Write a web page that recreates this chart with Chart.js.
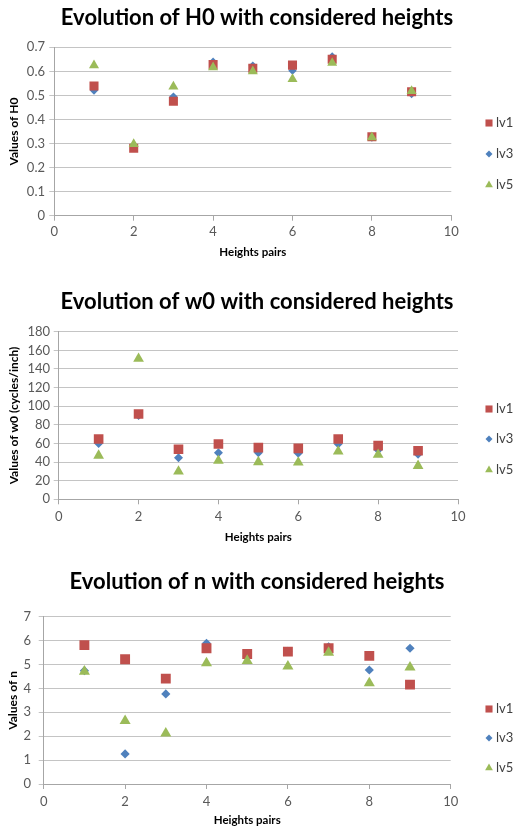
<!DOCTYPE html>
<html>
<head>
<meta charset="utf-8">
<title>Evolution of H0, w0 and n</title>
<script src="https://cdn.jsdelivr.net/npm/chart.js@4.4.0/dist/chart.umd.min.js"></script>
<style>
  body { margin: 0; background: #fff; }
  .band { position: absolute; left: 0; width: 514px; }
</style>
</head>
<body>
<div class="band" style="top:0;height:265px"><canvas id="chartH0"></canvas></div>
<div class="band" style="top:280px;height:268px"><canvas id="chartW0"></canvas></div>
<div class="band" style="top:562px;height:269px"><canvas id="chartN"></canvas></div>
<script>
// heights pairs on the x axis
const heightsPairs = [1, 2, 3, 4, 5, 6, 7, 8, 9];
const seriesNames = ["lv1", "lv3", "lv5"];

// H0
const h0Lv1 = [0.539, 0.28, 0.476, 0.628, 0.613, 0.626, 0.65, 0.328, 0.515];
const h0Lv3 = [0.52, 0.29, 0.495, 0.64, 0.624, 0.603, 0.662, 0.325, 0.506];
const h0Lv5 = [0.625, 0.298, 0.537, 0.617, 0.6, 0.568, 0.635, 0.326, 0.518];

// w0 (cycles/inch)
const w0Lv1 = [64.8, 91.6, 53.7, 59.4, 55.5, 54.7, 64.8, 57.6, 52.2];
const w0Lv3 = [60, 90, 44.5, 50, 50, 49.4, 59.5, 53, 48.5];
const w0Lv5 = [47, 151, 30, 41.5, 40, 39.5, 51.5, 48, 36];

// n
const nLv1 = [5.81, 5.22, 4.41, 5.68, 5.44, 5.54, 5.68, 5.36, 4.16];
const nLv3 = [4.74, 1.26, 3.77, 5.89, 5.35, 5.55, 5.74, 4.77, 5.68];
const nLv5 = [4.71, 2.64, 2.12, 5.06, 5.16, 4.92, 5.5, 4.22, 4.88];

// axis ranges [min, max, step]
const xRange = [0, 10, 2];
const h0Range = [0, 0.7, 0.1];
const w0Range = [0, 180, 20];
const nRange = [0, 7, 1];

const RED = "#C0504D";
const BLUE = "#4F81BD";
const GREEN = "#9BBB59";
const FONT = "Lato";

// legend drawn on the right side, one row per dataset
const sideLegend = {
  id: "sideLegend",
  afterDraw(chart, args, opts) {
    const ctx = chart.ctx;
    ctx.save();
    ctx.font = "13px " + FONT;
    ctx.textBaseline = "middle";
    ctx.textAlign = "left";
    chart.data.datasets.forEach((ds, i) => {
      const y = opts.y[i];
      ctx.fillStyle = ds.backgroundColor;
      Chart.helpers.drawPoint(ctx, {
        pointStyle: ds.pointStyle, radius: opts.radius[i], rotation: 0, borderWidth: 0
      }, opts.x, y);
      ctx.fillStyle = "#404040";
      ctx.fillText(ds.label, opts.x + 7, y);
    });
    ctx.restore();
  }
};

function series(label, values, color, style, radius, order) {
  return {
    label: label,
    data: heightsPairs.map((x, i) => ({ x: x, y: values[i] })),
    backgroundColor: color,
    borderColor: color,
    pointStyle: style,
    pointRadius: radius,
    pointBorderWidth: 0,
    order: order
  };
}

function makeChart(id, o) {
  return new Chart(document.getElementById(id), {
    type: "scatter",
    data: {
      datasets: [
        series(seriesNames[0], o.lv1, RED, "rect", o.r[0], 1),
        series(seriesNames[1], o.lv3, BLUE, "rectRot", o.r[1], 2),
        series(seriesNames[2], o.lv5, GREEN, "triangle", o.r[2], 0)
      ]
    },
    options: {
      responsive: true,
      maintainAspectRatio: false,
      animation: false,
      layout: { padding: 0 },
      scales: {
        x: {
          type: "linear",
          min: xRange[0], max: xRange[1],
          ticks: { stepSize: xRange[2], color: "#595959", font: { family: FONT, size: 13 }, padding: o.xTickPad },
          grid: { drawOnChartArea: false, tickLength: 5, color: "#a6a6a6" },
          border: { color: "#a6a6a6" },
          title: {
            display: true, text: "Heights pairs", color: "#000",
            font: { family: FONT, size: 11.5, weight: "bold" },
            padding: { top: 0, bottom: o.xTitlePad }
          },
          afterFit: (s) => { s.height = o.xHeight; }
        },
        y: {
          min: o.range[0], max: o.range[1],
          ticks: { stepSize: o.range[2], color: "#595959", font: { family: FONT, size: 13 }, padding: o.yTickPad },
          grid: { color: "#c4c4c4", tickLength: 5 },
          border: { color: "#a6a6a6" },
          title: {
            display: true, text: o.yTitle, color: "#000",
            font: { family: FONT, size: 12, weight: "bold" },
            padding: { top: o.yTitlePad, bottom: 0 }
          },
          afterFit: (s) => { s.width = o.yWidth; }
        },
        // empty right axis: keeps room for the legend while the title stays centred on the page
        legendSpace: {
          position: "right",
          ticks: { display: false },
          grid: { display: false },
          border: { display: false },
          afterFit: (s) => { s.width = o.padRight; }
        }
      },
      plugins: {
        legend: { display: false },
        tooltip: { enabled: false },
        title: {
          display: true, text: o.title, color: "#000",
          font: { family: FONT, size: 22, weight: "bold" },
          padding: { top: o.titleTop, bottom: o.titleBottom }
        },
        sideLegend: { x: 489, y: o.legendY, radius: [5, 3.5, 4.5] }
      }
    },
    plugins: [sideLegend]
  });
}

makeChart("chartH0", {
  title: "Evolution of H0 with considered heights",
  yTitle: "Values of H0",
  lv1: h0Lv1, lv3: h0Lv3, lv5: h0Lv5, range: h0Range,
  r: [6.4, 4.2, 5.8],
  padRight: 62.7, yWidth: 54.3, xHeight: 49.3,
  titleTop: 4.8, titleBottom: 16.1,
  xTickPad: 3.5, xTitlePad: 5.4, yTickPad: 4.3, yTitlePad: 6.8,
  legendY: [123, 154, 185]
});

makeChart("chartW0", {
  title: "Evolution of w0 with considered heights",
  yTitle: "Values of w0 (cycles/inch)",
  lv1: w0Lv1, lv3: w0Lv3, lv5: w0Lv5, range: w0Range,
  r: [6.8, 4.5, 6.2],
  padRight: 56, yWidth: 58.7, xHeight: 48.7,
  titleTop: 8.8, titleBottom: 16.5,
  xTickPad: 5, xTitlePad: 4.1, yTickPad: 3.7, yTitlePad: 6.8,
  legendY: [129, 159, 190]
});

makeChart("chartN", {
  title: "Evolution of n with considered heights",
  yTitle: "Values of n",
  lv1: nLv1, lv3: nLv3, lv5: nLv5, range: nRange,
  r: [7, 4.6, 6.4],
  padRight: 63.3, yWidth: 43.7, xHeight: 47,
  titleTop: 6.8, titleBottom: 21.5,
  xTickPad: 5, xTitlePad: 3.4, yTickPad: 7.7, yTitlePad: 6.3,
  legendY: [147, 176, 206]
});
</script>
</body>
</html>
